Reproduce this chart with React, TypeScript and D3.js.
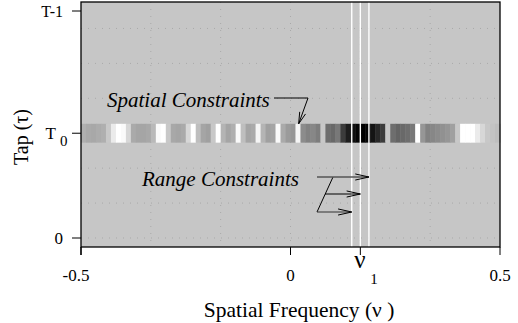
import { useEffect, useRef } from "react";
import * as d3 from "d3";

// gray level (0 = black, 255 = white) of the T0 row, 84 equal bins from -0.5 to 0.5
const bandGray = [
  176, 170, 168, 172, 175, 200, 235, 255, 250, 215,
  170, 165, 165, 168, 185, 250, 255, 200, 168, 165,
  170, 215, 255, 190, 165, 160, 200, 255, 180, 165,
  175, 250, 190, 165, 170, 245, 180, 160, 165, 250,
  170, 155, 150, 245, 140, 130, 135, 125, 200, 110,
  105, 120, 60, 30, 15, 5, 0, 5, 20, 40,
  60, 200, 110, 100, 105, 110, 120, 255, 150, 130,
  135, 140, 145, 150, 160, 200, 255, 255, 255, 235,
  215, 200, 195, 190,
];

const nu1 = 1 / 6;
const rangeOffsets = [-0.0205, 0, 0.0205];
const xGrid = [-1 / 3, -1 / 6, 0, 1 / 6, 1 / 3];
const yGrid = [0, 1, 2, 3, 4, 5, 6];
const xTicks = [-0.5, 0, nu1, 0.5];
const xTickLabels = ["-0.5", "0", "", "0.5"];
const tau0 = 3;
const tauLast = 6.5;

const serif = "'Liberation Serif', 'Times New Roman', serif";

const App = () => {
  const svgRef = useRef<SVGSVGElement | null>(null);

  useEffect(() => {
    const width = 518;
    const height = 323;
    const svg = d3.select(svgRef.current).attr("width", width).attr("height", height);
    svg.selectAll("*").remove();

    const x = d3.scaleLinear().domain([-0.5, 0.5]).range([81, 500]);
    const y = d3.scaleLinear().domain([0, tauLast]).range([238, 11]);
    const top = 2;
    const bottom = 247;

    // plot background
    svg.append("rect")
      .attr("x", x(-0.5)).attr("y", top)
      .attr("width", x(0.5) - x(-0.5)).attr("height", bottom - top)
      .attr("fill", "#c6c6c6");

    // dotted grid
    svg.selectAll(".gx").data(xGrid).enter().append("line")
      .attr("x1", (d) => x(d)).attr("x2", (d) => x(d))
      .attr("y1", top).attr("y2", bottom)
      .attr("stroke", "#a9a9a9").attr("stroke-width", 1)
      .attr("stroke-dasharray", "1,6");
    svg.selectAll(".gy").data(yGrid).enter().append("line")
      .attr("x1", x(-0.5)).attr("x2", x(0.5))
      .attr("y1", (d) => y(d)).attr("y2", (d) => y(d))
      .attr("stroke", "#a9a9a9").attr("stroke-width", 1)
      .attr("stroke-dasharray", "1,6");

    // T0 band
    const binW = 1 / bandGray.length;
    svg.selectAll(".cell").data(bandGray).enter().append("rect")
      .attr("x", (_d, i) => x(-0.5 + i * binW))
      .attr("width", x(binW) - x(0) + 0.4)
      .attr("y", y(tau0 + 0.27))
      .attr("height", y(tau0 - 0.27) - y(tau0 + 0.27))
      .attr("fill", (d) => d3.rgb(d, d, d).toString());

    // range constraint lines
    svg.selectAll(".rc").data(rangeOffsets).enter().append("line")
      .attr("x1", (d) => x(nu1 + d)).attr("x2", (d) => x(nu1 + d))
      .attr("y1", top).attr("y2", bottom)
      .attr("stroke", "#fff").attr("stroke-width", 1.4);

    // frame
    svg.append("rect")
      .attr("x", x(-0.5)).attr("y", top)
      .attr("width", x(0.5) - x(-0.5)).attr("height", bottom - top)
      .attr("fill", "none").attr("stroke", "#000").attr("stroke-width", 1.3);

    // y ticks
    [0, tau0, tauLast].forEach((t) => {
      svg.append("line")
        .attr("x1", 72).attr("x2", x(-0.5))
        .attr("y1", y(t)).attr("y2", y(t))
        .attr("stroke", "#000").attr("stroke-width", 1);
    });
    svg.append("line")
      .attr("x1", x(-0.5)).attr("x2", x(-0.5))
      .attr("y1", bottom).attr("y2", 255)
      .attr("stroke", "#000").attr("stroke-width", 1.3);

    const txt = (s: string, px: number, py: number, size: number, anchor = "start", italic = false) =>
      svg.append("text")
        .attr("x", px).attr("y", py)
        .attr("font-family", serif).attr("font-size", size)
        .attr("font-style", italic ? "italic" : "normal")
        .attr("text-anchor", anchor).attr("fill", "#000")
        .text(s);

    txt("T-1", 63, y(tauLast) + 6, 16, "end");
    txt("0", 63, y(0) + 6, 17, "end");
    txt("T", 56, y(tau0) + 6, 17, "end");
    txt("0", 60, y(tau0) + 13, 15);

    // x ticks
    svg.selectAll(".xt").data(xTicks).enter().append("line")
      .attr("x1", (d) => x(d)).attr("x2", (d) => x(d))
      .attr("y1", bottom).attr("y2", 255)
      .attr("stroke", "#000").attr("stroke-width", 1);
    xTicks.forEach((t, i) => {
      if (xTickLabels[i]) txt(xTickLabels[i], x(t) - (i === 0 ? 5 : 0), 281, 17, "middle");
    });
    txt("\u03bd", x(nu1) - 6, 268, 25);
    txt("1", x(nu1) + 10, 284, 15);

    // axis titles
    txt("Spatial Frequency (\u03bd )", 299, 317, 21.5, "middle");
    svg.append("text")
      .attr("transform", `translate(28,${137}) rotate(-90)`)
      .attr("font-family", serif).attr("font-size", 20)
      .attr("text-anchor", "middle").attr("fill", "#000")
      .text("Tap (\u03c4)");

    // annotations
    const arrowHead = (x0: number, y0: number, x1: number, y1: number, len = 12, ang = 0.26) => {
      const a = Math.atan2(y1 - y0, x1 - x0);
      const pts = [a + Math.PI - ang, a + Math.PI + ang].map(
        (b) => [x1 + len * Math.cos(b), y1 + len * Math.sin(b)] as [number, number]
      );
      svg.append("path")
        .attr("d", `M${pts[0][0]},${pts[0][1]}L${x1},${y1}L${pts[1][0]},${pts[1][1]}`)
        .attr("fill", "none").attr("stroke", "#000").attr("stroke-width", 1);
    };

    txt("Spatial Constraints", 107, 107, 21, "start", true);
    const spatialTip: [number, number] = [x(0.0195), y(tau0 + 0.27)];
    svg.append("path")
      .attr("d", `M274,98L308,98L${spatialTip[0]},${spatialTip[1]}`)
      .attr("fill", "none").attr("stroke", "#000").attr("stroke-width", 1);
    arrowHead(308, 98, spatialTip[0], spatialTip[1]);

    txt("Range Constraints", 142, 186, 21, "start", true);
    const rowY = [177, 194, 212];
    const tips = rangeOffsets.map((d) => x(nu1 + d)).reverse();
    // bracket
    svg.append("path")
      .attr("d", `M333,${rowY[0]}L317,${rowY[2]}`)
      .attr("fill", "none").attr("stroke", "#000").attr("stroke-width", 1);
    svg.append("line")
      .attr("x1", 317).attr("x2", tips[0]).attr("y1", rowY[0]).attr("y2", rowY[0])
      .attr("stroke", "#555").attr("stroke-width", 1.6);
    svg.append("line")
      .attr("x1", 325).attr("x2", tips[1]).attr("y1", rowY[1]).attr("y2", rowY[1])
      .attr("stroke", "#000").attr("stroke-width", 1);
    svg.append("line")
      .attr("x1", 317).attr("x2", tips[2]).attr("y1", rowY[2]).attr("y2", rowY[2])
      .attr("stroke", "#333").attr("stroke-width", 1.2);
    tips.forEach((tx, i) => arrowHead(tx - 20, rowY[i], tx, rowY[i], 14, 0.22));
  }, []);

  return (
    <svg ref={svgRef} style={{ position: "absolute", left: 0, top: 0, background: "#fff" }}></svg>
  );
};

export default App;
